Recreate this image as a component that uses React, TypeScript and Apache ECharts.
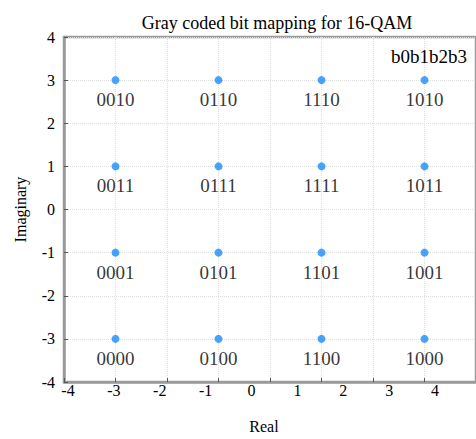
import React, { useEffect, useRef } from "react";
import * as echarts from "echarts";

const realValues = [-3, -1, 1, 3];
const imagValues = [3, 1, -1, -3];
const bitLabels = [
  ["0010", "0110", "1110", "1010"],
  ["0011", "0111", "1111", "1011"],
  ["0001", "0101", "1101", "1001"],
  ["0000", "0100", "1100", "1000"],
];
const axisMin = -4;
const axisMax = 4;
const titleText = "Gray coded bit mapping for 16-QAM";
const legendText = "b0b1b2b3";

const FONT = "Liberation Serif";

export default function App() {
  const ref = useRef<HTMLDivElement>(null);
  useEffect(() => {
    if (!ref.current) return;
    const chart = echarts.init(ref.current, undefined, { renderer: "svg" });
    const points: any[] = [];
    imagValues.forEach((im, i) => {
      realValues.forEach((re, j) => {
        points.push([re, im, bitLabels[i][j]]);
      });
    });
    chart.setOption({
      animation: false,
      backgroundColor: "#ffffff",
      textStyle: { fontFamily: FONT },
      title: [
        {
          text: titleText,
          left: 272,
          top: 9,
          textAlign: "center",
          textStyle: { fontFamily: FONT, fontSize: 18, fontWeight: "normal", color: "#000" },
        },
        {
          text: legendText,
          left: 429,
          top: 47,
          textAlign: "center",
          padding: 0,
          textStyle: { fontFamily: FONT, fontSize: 19, fontWeight: "normal", color: "#000" },
        },
      ],
      grid: [
        { left: 64, right: -5, top: 37, bottom: 57, show: true, borderColor: "#9a9a9a", borderWidth: 2.5, backgroundColor: "transparent" },
        { left: 68, right: 41, top: 37, bottom: 57, show: false },
      ],
      xAxis: [
        {
          gridIndex: 0,
          type: "value",
          min: axisMin,
          max: axisMax,
          interval: 1,
          axisLabel: { show: false },
          axisLine: { show: true, onZero: false, lineStyle: { color: "#9a9a9a", width: 2.5 } },
          axisTick: { show: true, inside: true, length: 4, lineStyle: { color: "#555" } },
          splitLine: { show: true, lineStyle: { color: "#dedede", type: "dotted", width: 1 } },
        },
        {
          gridIndex: 1,
          type: "value",
          min: axisMin,
          max: axisMax,
          interval: 1,
          name: "Real",
          nameLocation: "middle",
          nameGap: 40,
          nameTextStyle: { fontFamily: FONT, fontSize: 16, color: "#000", padding: [0, 0, 0, 25] },
          axisLine: { show: false, onZero: false },
          axisTick: { show: false },
          splitLine: { show: false },
          axisLabel: { fontFamily: FONT, fontSize: 16, color: "#000", margin: 4 },
        },
      ],
      yAxis: [
        {
          gridIndex: 0,
          type: "value",
          min: axisMin,
          max: axisMax,
          interval: 1,
          name: "Imaginary",
          nameLocation: "middle",
          nameGap: 36,
          nameTextStyle: { fontFamily: FONT, fontSize: 16, color: "#000" },
          axisLabel: { fontFamily: FONT, fontSize: 16, color: "#000", margin: 9 },
          axisLine: { show: true, onZero: false, lineStyle: { color: "#9a9a9a", width: 2.5 } },
          axisTick: { show: true, inside: true, length: 4, lineStyle: { color: "#555" } },
          splitLine: { show: true, lineStyle: { color: "#dedede", type: "dotted", width: 1 } },
        },
        { gridIndex: 1, type: "value", min: axisMin, max: axisMax, show: false },
      ],
      series: [
        {
          type: "scatter",
          xAxisIndex: 0,
          yAxisIndex: 0,
          symbolSize: 8,
          itemStyle: { color: "#1a8cff" },
          data: points,
          label: {
            show: true,
            position: "bottom",
            distance: 6,
            formatter: (p: any) => p.value[2],
            fontFamily: FONT,
            fontSize: 19,
            color: "#000",
          },
        },
      ],
    });
    return () => chart.dispose();
  }, []);
  return (
    <div
      ref={ref}
      style={{ position: "fixed", left: 0, top: 0, width: 476, height: 439 }}
    />
  );
}
